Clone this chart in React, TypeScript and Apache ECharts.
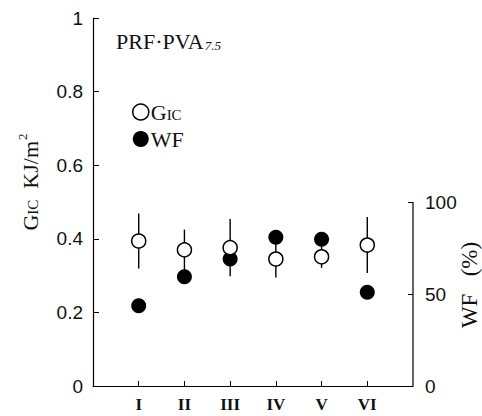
import React, { useEffect, useRef } from "react";
import * as echarts from "echarts";

const categories = ["I", "II", "III", "IV", "V", "VI"];
const categoryPos = [1, 2, 3, 4, 5, 6];
const gicValues = [0.394, 0.37, 0.376, 0.345, 0.351, 0.383];
const gicErr = [0.075, 0.055, 0.078, 0.05, 0.03, 0.076];
const wfValues = [43.6, 59.4, 69.0, 80.8, 79.7, 50.9];
const leftTicks = [0, 0.2, 0.4, 0.6, 0.8, 1];
const rightTicks = [0, 50, 100];

const SERIF = "'Liberation Serif', 'DejaVu Serif', serif";
const SANS = "'Liberation Sans', 'DejaVu Sans', sans-serif";

export default function App() {
  const ref = useRef<HTMLDivElement>(null);
  useEffect(() => {
    if (!ref.current) return;
    const chart = echarts.init(ref.current, null, { renderer: "svg" });
    const gicPts = categoryPos.map((x, i) => [x, gicValues[i]]);
    const wfPts = categoryPos.map((x, i) => [x, wfValues[i]]);
    const errPts = categoryPos.map((x, i) => [x, gicValues[i] - gicErr[i], gicValues[i] + gicErr[i]]);
    chart.setOption({
      animation: false,
      backgroundColor: "#fff",
      title: {
        left: 116,
        top: 30,
        padding: 0,
        text: "{a|PRF·PVA}{b|7.5}",
        textStyle: {
          fontWeight: "normal",
          rich: {
            a: { fontFamily: SERIF, fontSize: 22, fontWeight: "normal", color: "#111", verticalAlign: "bottom" },
            b: { fontFamily: SERIF, fontSize: 13, fontStyle: "italic", fontWeight: "normal", color: "#111", verticalAlign: "bottom", padding: [0, 0, 0, 1] },
          },
        },
      },
      legend: {
        left: 132,
        top: 101,
        padding: 0,
        orient: "vertical",
        itemWidth: 16,
        itemHeight: 16,
        itemGap: 5,
        data: [
          { name: "Gic", icon: "circle", itemStyle: { color: "#fff", borderColor: "#000", borderWidth: 1.5, opacity: 1 } },
          { name: "WF", icon: "circle", itemStyle: { color: "#000", opacity: 1 } },
        ],
        formatter: (n: string) => (n === "Gic" ? "{g|G}{s|IC}" : "{g|WF}"),
        textStyle: {
          padding: [0, 0, 0, -3],
          rich: {
            g: { fontFamily: SERIF, fontSize: 22, color: "#111", verticalAlign: "bottom" },
            s: { fontFamily: SERIF, fontSize: 15, color: "#111", verticalAlign: "bottom", padding: [0, 0, 1, 0] },
          },
        },
      },
      grid: { left: 93, top: 18, right: 69, bottom: 30, containLabel: false, outerBoundsMode: "none" },
      xAxis: {
        type: "value",
        min: 0,
        max: 7,
        interval: 1,
        splitLine: { show: false },
        axisLine: { show: true, lineStyle: { color: "#000", width: 1.2 } },
        axisTick: { show: true, inside: true, length: 5, customValues: categoryPos, lineStyle: { color: "#000" } },
        axisLabel: {
          customValues: categoryPos,
          formatter: (v: number) => categories[Math.round(v) - 1] ?? "",
          fontFamily: SERIF,
          fontWeight: "bold",
          fontSize: 17,
          color: "#111",
          margin: 10,
        },
      },
      yAxis: [
        {
          type: "value",
          min: 0,
          max: 1,
          interval: 0.2,
          splitLine: { show: false },
          axisLine: { show: true, lineStyle: { color: "#000", width: 1.2 } },
          axisTick: { show: true, inside: true, length: 6, customValues: leftTicks, lineStyle: { color: "#000" } },
          axisLabel: {
            customValues: leftTicks,
            formatter: (v: number) => (v === 0 || v === 1 ? String(v) : v.toFixed(1)),
            fontFamily: SANS,
            fontSize: 19,
            color: "#111",
            margin: 10,
          },
          name: "{g|G}{s|IC}{n|  KJ/m}{p|2}",
          nameLocation: "middle",
          nameRotate: 90,
          nameGap: 48,
          nameTextStyle: {
            rich: {
              g: { fontFamily: SERIF, fontSize: 22, color: "#111", padding: [0, 0, 0, 40] },
              s: { fontFamily: SERIF, fontSize: 15, color: "#111", padding: [4, 0, 0, 0] },
              n: { fontFamily: SERIF, fontSize: 22, color: "#111" },
              p: { fontFamily: SERIF, fontSize: 13, color: "#111", padding: [0, 0, 16, 1] },
            },
          },
        },
        {
          type: "value",
          min: 0,
          max: 200,
          interval: 50,
          position: "right",
          splitLine: { show: false },
          axisLine: { show: false },
          axisTick: { show: true, inside: true, length: 5, customValues: [50, 100], lineStyle: { color: "#000" } },
          axisLabel: {
            customValues: rightTicks,
            fontFamily: SANS,
            fontSize: 19,
            color: "#111",
            margin: 12,
          },
          name: "{w|WF   (%)}",
          nameLocation: "middle",
          nameRotate: 90,
          nameGap: 45,
          nameMoveOverlap: false,
          nameTextStyle: {
            rich: {
              w: { fontFamily: SERIF, fontSize: 23, color: "#111", padding: [0, 166, 0, 0] },
            },
          },
        },
      ],
      series: [
        {
          type: "line",
          yAxisIndex: 1,
          data: [[7, 0], [7, 100]],
          symbol: "none",
          lineStyle: { color: "#000", width: 1.2 },
          silent: true,
          z: 1,
        },
        {
          type: "custom",
          yAxisIndex: 0,
          data: errPts,
          z: 2,
          renderItem: (params: any, api: any) => {
            const p1 = api.coord([api.value(0), api.value(1)]);
            const p2 = api.coord([api.value(0), api.value(2)]);
            return {
              type: "line",
              shape: { x1: p1[0], y1: p1[1], x2: p2[0], y2: p2[1] },
              style: { stroke: "#000", lineWidth: 1.4 },
            };
          },
        },
        {
          name: "WF",
          type: "scatter",
          yAxisIndex: 1,
          data: wfPts,
          symbol: "circle",
          symbolSize: 15,
          itemStyle: { color: "#000", opacity: 1 },
          z: 3,
        },
        {
          name: "Gic",
          type: "scatter",
          yAxisIndex: 0,
          data: gicPts,
          symbol: "circle",
          symbolSize: 14,
          itemStyle: { color: "#fff", borderColor: "#000", borderWidth: 1.5, opacity: 1 },
          z: 4,
        },
      ],
    });
    return () => chart.dispose();
  }, []);
  return (
    <div
      ref={ref}
      style={{ position: "absolute", left: 0, top: 0, width: 482, height: 416, background: "#fff" }}
    />
  );
}
